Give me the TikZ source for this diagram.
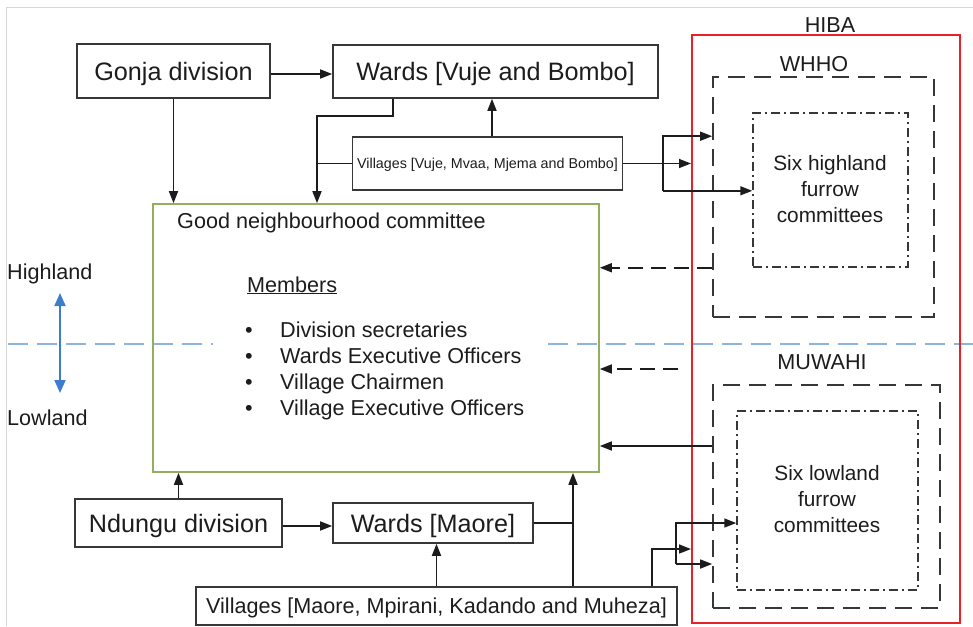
\documentclass[tikz,border=0pt]{standalone}
\usepackage{fontspec}
\setmainfont{Liberation Sans}
\usetikzlibrary{arrows.meta,calc}

\definecolor{ink}{RGB}{28,28,28}
\definecolor{boxline}{RGB}{55,55,55}
\definecolor{hibared}{RGB}{232,32,40}
\definecolor{gncgreen}{RGB}{145,175,95}
\definecolor{divblue}{RGB}{140,180,225}
\definecolor{arrblue}{RGB}{60,125,205}
\definecolor{framegrey}{RGB}{215,215,215}

\newcommand\setfs[1]{\fontsize{#1}{26}\selectfont}

\begin{document}
\begin{tikzpicture}[x=1pt,y=-1pt,
  box/.style={draw=boxline,line width=1.6pt,inner sep=0pt,text=ink},
  bigtxt/.style={font=\setfs{25.2},text height=18pt,text depth=0pt},
  midtxt/.style={font=\setfs{21.6},text height=15.5pt,text depth=0pt},
  smalltxt/.style={font=\setfs{14.3},text height=10.3pt,text depth=0pt},
  label/.style={inner sep=0pt,text=ink,font=\setfs{21.6}},
  arr/.style={draw=ink,line width=1.6pt,-{Triangle[length=12pt,width=9pt]}},
  link/.style={draw=ink,line width=1.6pt},
  dasharr/.style={arr,dash pattern=on 15pt off 8pt},
  outerdash/.style={draw=boxline,line width=1.7pt,dash pattern=on 17pt off 9pt,inner sep=0pt},
  innerdash/.style={draw=boxline,line width=1.5pt,dash pattern=on 9pt off 4pt on 2pt off 4pt,inner sep=0pt},
  divider/.style={draw=divblue,line width=1.8pt,dash pattern=on 20pt off 9pt},
  bluearr/.style={draw=arrblue,line width=1.8pt,{Triangle[length=13pt,width=11pt]}-{Triangle[length=13pt,width=11pt]}}
]
\useasboundingbox (0,0) rectangle (973,626);

% page frame
\draw[framegrey,line width=1pt] (6,626) -- (6,8) -- (973,8);

% highland / lowland divider
\coordinate (divL1) at (8,344);
\coordinate (divL2) at (213,344);
\coordinate (divR1) at (548,344);
\coordinate (divR2) at (973,344);
\draw[divider] (divL1) -- (divL2);
\draw[divider] (divR1) -- (divR2);

\node[label,anchor=base west] (highland) at (7,279) {Highland};
\node[label,anchor=base west] (lowland) at (7,425) {Lowland};
\coordinate (upTip) at (60,293);
\coordinate (downTip) at (60,393);
\draw[bluearr] (upTip) -- (downTip);

% HIBA with its two associations
\node[draw=hibared,line width=2pt,inner sep=0pt,minimum width=268pt,minimum height=588pt] (hiba) at (826,329) {};
\node[label,text height=15.5pt,text depth=0pt] (hibalbl) at (830,25) {HIBA};

\node[outerdash,minimum width=221pt,minimum height=240pt] (whho) at (823.5,197) {};
\node[innerdash,minimum width=155pt,minimum height=154pt] (whhoIn) at (830.5,190) {};
\node[label,text height=15.5pt,text depth=0pt] (whholbl) at (814,64) {WHHO};
\node[label,align=center,font=\setfs{20.8}] (whhotxt) at (830,189) {Six highland\\furrow\\committees};

\node[outerdash,minimum width=227pt,minimum height=223pt] (muwahi) at (826.5,496.5) {};
\node[innerdash,minimum width=181pt,minimum height=179pt] (muwahiIn) at (827.5,500.5) {};
\node[label,text height=15.5pt,text depth=0pt] (muwahilbl) at (822,362) {MUWAHI};
\node[label,align=center,font=\setfs{20.8}] (muwahitxt) at (827,499) {Six lowland\\furrow\\committees};

% good neighbourhood committee
\node[draw=gncgreen,line width=1.6pt,inner sep=0pt,minimum width=446pt,minimum height=268pt] (gnc) at (376,338) {};
\node[label,anchor=base west] (gnctitle) at (177,228) {Good neighbourhood committee};
\node[label,anchor=base west] (members) at (247,292) {\underline{Members}};
\node[label,anchor=base west] (m1) at (245,337.5) {\makebox[35pt][l]{\textbullet}Division secretaries};
\node[label,anchor=base west] (m2) at (245,363.5) {\makebox[35pt][l]{\textbullet}Wards Executive Officers};
\node[label,anchor=base west] (m3) at (245,389.5) {\makebox[35pt][l]{\textbullet}Village Chairmen};
\node[label,anchor=base west] (m4) at (245,415.5) {\makebox[35pt][l]{\textbullet}Village Executive Officers};

% highland administration
\node[box,bigtxt,minimum width=193pt,minimum height=54pt] (gonja) at (173.5,71) {Gonja division};
\node[box,bigtxt,minimum width=325pt,minimum height=53pt] (wardsVB) at (495.5,71.5) {Wards [Vuje and Bombo]};
\node[box,smalltxt,minimum width=270pt,minimum height=53pt] (villVB) at (487.5,163.5) {Villages [Vuje, Mvaa, Mjema and Bombo]};

% lowland administration
\node[box,bigtxt,minimum width=207pt,minimum height=48pt] (ndungu) at (178.5,523) {Ndungu division};
\node[box,bigtxt,minimum width=200pt,minimum height=40pt] (wardsM) at (433,523) {Wards [Maore]};
\node[box,midtxt,minimum width=481pt,minimum height=38pt] (villM) at (436.5,606) {Villages [Maore, Mpirani, Kadando and Muheza]};

% bend points
\coordinate (bendA) at (317,116);
\coordinate (vUp) at (492,0);
\coordinate (jB) at (663,0);
\coordinate (dStart) at (678,369);
\coordinate (yLow) at (0,446);
\coordinate (jM) at (573,0);
\coordinate (jL) at (652,549);
\coordinate (jL2) at (676,523);
\coordinate (jL3) at (676,564);

% highland connectors
\draw[arr] ($(gonja.east)+(0,3)$) -- ($(gonja.east -| wardsVB.west)+(0,3)$);
\draw[arr] (gonja.south) -- (gonja.south |- gnc.north);
\draw[arr] ($(wardsVB.south west)+(61,0)$) |- (bendA) -- (bendA |- gnc.north);
\draw[link] (villVB.west) -- (villVB.west -| bendA);
\draw[arr] (vUp |- villVB.north) -- (vUp |- wardsVB.south);
\draw[arr] (villVB.east) -- (villVB.east -| hiba.west);
\draw[arr] (jB |- villVB.south) -- (jB |- villVB.north) -- (villVB.north -| whho.west);
\draw[arr] (jB |- villVB.south) -- (villVB.south -| whhoIn.west);

% feedback to the committee
\draw[dasharr] (whhoIn.south -| whho.west) -- (whhoIn.south -| gnc.east);
\draw[dasharr] (dStart) -- (dStart -| gnc.east);
\draw[arr] (yLow -| muwahi.west) -- (yLow -| gnc.east);

% lowland connectors
\draw[arr] (ndungu.north) -- (ndungu.north |- gnc.south);
\draw[arr] ($(ndungu.east)+(0,3)$) -- ($(ndungu.east -| wardsM.west)+(0,3)$);
\draw[arr] (villM.north) -- (villM.north |- wardsM.south);
\draw[link] (wardsM.east) -- (wardsM.east -| jM);
\draw[arr] (jM |- villM.north) -- (jM |- gnc.south);
\draw[arr] (jL |- villM.north) -- (jL) -- (jL -| hiba.west);
\draw[arr] (jL3) -- (jL2) -- (jL2 -| muwahiIn.west);
\draw[arr] (jL3) -- (jL3 -| muwahi.west);
\end{tikzpicture}
\end{document}
